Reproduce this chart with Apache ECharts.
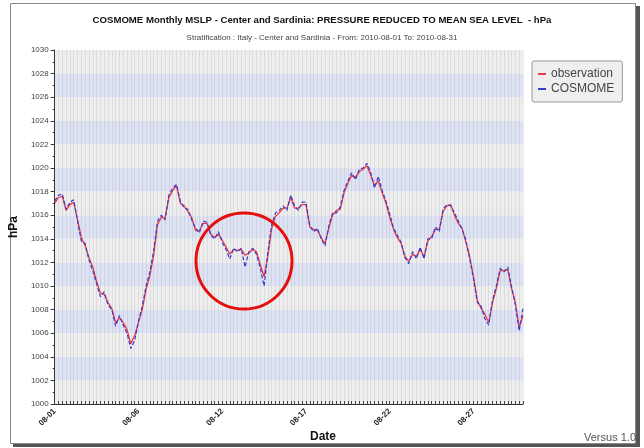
<!DOCTYPE html>
<html>
<head>
<meta charset="utf-8">
<script src="https://cdn.jsdelivr.net/npm/echarts@6/dist/echarts.min.js"></script>
<style>html,body{margin:0;padding:0;background:#fff;}#c{width:644px;height:448px;}</style>
</head>
<body>
<div id="c"></div>
<script>
// 6-hourly values, 2010-08-01 00:00 .. 2010-08-31 18:00
const observation = [
1017.0,1017.5,1017.6,1016.4,1016.9,1017.1,1015.6,1014.1,1013.4,1012.4,
1011.6,1010.4,1009.4,1009.3,1008.6,1008.1,1006.9,1007.3,1006.9,1006.3,
1005.1,1005.8,1006.9,1008.0,1009.7,1010.9,1012.6,1015.2,1015.8,1015.8,
1017.5,1018.1,1018.5,1017.0,1016.8,1016.3,1015.8,1014.7,1014.7,1015.3,
1015.3,1014.4,1014.1,1014.4,1013.9,1013.3,1012.7,1013.1,1013.0,1013.1,
1012.6,1012.8,1013.1,1012.9,1011.8,1010.8,1012.6,1014.9,1015.9,1016.2,
1016.6,1016.6,1017.5,1016.6,1016.6,1016.9,1016.9,1015.0,1014.8,1014.7,
1014.1,1013.6,1014.9,1016.0,1016.4,1016.5,1017.9,1018.7,1019.4,1019.2,
1019.7,1019.9,1020.2,1019.4,1018.5,1018.9,1017.9,1017.0,1015.8,1014.8,
1014.1,1013.6,1012.5,1012.1,1012.7,1012.5,1013.1,1012.5,1013.8,1014.2,
1014.8,1014.8,1016.3,1016.8,1016.9,1016.0,1015.3,1014.9,1013.7,1012.5,
1010.8,1008.8,1008.1,1007.6,1006.9,1008.6,1009.8,1011.3,1011.3,1011.4,
1009.8,1008.6,1006.5,1007.5
];
const cosmome = [
1017.2,1017.7,1017.8,1016.5,1017.1,1017.3,1015.5,1013.8,1013.6,1012.2,
1011.3,1010.2,1009.1,1009.5,1008.4,1008.0,1006.6,1007.5,1006.7,1006.0,
1004.7,1005.4,1007.0,1008.3,1010.0,1011.2,1013.0,1015.5,1016.0,1015.6,
1017.7,1018.3,1018.6,1017.2,1016.6,1016.5,1015.6,1014.9,1014.5,1015.5,
1015.4,1014.3,1014.0,1014.6,1013.7,1013.1,1012.3,1013.2,1012.9,1013.2,
1011.6,1012.9,1013.2,1012.7,1011.5,1010.0,1012.9,1015.2,1016.2,1016.4,
1016.8,1016.4,1017.7,1016.8,1016.4,1017.1,1017.1,1015.1,1014.6,1014.9,
1014.0,1013.4,1015.1,1016.2,1016.2,1016.7,1018.1,1018.9,1019.6,1019.0,
1019.9,1020.0,1020.4,1019.6,1018.3,1019.3,1018.1,1017.2,1016.1,1014.9,
1014.3,1013.7,1012.4,1011.9,1012.9,1012.3,1013.3,1012.3,1014.0,1014.0,
1015.0,1014.6,1016.5,1016.9,1016.8,1016.2,1015.5,1014.8,1013.9,1012.3,
1010.6,1008.6,1008.3,1007.2,1006.7,1008.8,1010.0,1011.5,1011.2,1011.6,
1009.9,1008.4,1006.2,1008.1
];
const tickLabels = ['08-01','08-06','08-12','08-17','08-22','08-27'];
const tickIndex = [0,22,44,66,88,110];
const seriesNames = ['observation','COSMOME'];
const yMin = 1000, yMax = 1030, yStep = 2;

const categories = observation.map((_, i) => String(i));
const FF = '"Liberation Sans", Arial, sans-serif';

const chart = echarts.init(document.getElementById('c'), null, {renderer: 'canvas'});
chart.setOption({
  animation: false,
  backgroundColor: '#ffffff',
  textStyle: {fontFamily: FF},
  title: {
    text: 'COSMOME Monthly MSLP - Center and Sardinia: PRESSURE REDUCED TO MEAN SEA LEVEL  - hPa',
    subtext: 'Stratification : Italy - Center and Sardinia - From: 2010-08-01 To: 2010-08-31',
    left: 'center', top: 10, itemGap: 9,
    textStyle: {fontFamily: FF, fontSize: 9.6, fontWeight: 'bold', color: '#111'},
    subtextStyle: {fontFamily: FF, fontSize: 8, color: '#444'}
  },
  legend: {
    orient: 'vertical', left: 532, top: 61,
    padding: [7, 8, 7, 6], itemGap: 3,
    itemWidth: 8, itemHeight: 2, icon: 'rect',
    backgroundColor: '#efefef', borderColor: '#999', borderWidth: 1, borderRadius: 2,
    textStyle: {fontFamily: FF, fontSize: 12, color: '#444'},
    data: seriesNames
  },
  grid: {left: 47, right: 121, top: 50, bottom: 44, containLabel: false},
  xAxis: {
    type: 'category', data: categories, boundaryGap: false,
    axisLine: {show: true, lineStyle: {color: '#333', width: 1}},
    axisTick: {show: true, inside: true, length: 3, interval: 0, lineStyle: {color: '#444'}},
    splitLine: {show: true, interval: 0, lineStyle: {color: 'rgba(150,150,150,0.2)', width: 1}},
    axisLabel: {
      rotate: 45, fontSize: 8, fontWeight: 'bold', color: '#222', margin: 6,
      interval: (i) => tickIndex.indexOf(i) >= 0,
      formatter: (v, i) => { const k = tickIndex.indexOf(i); return k >= 0 ? tickLabels[k] : ''; }
    }
  },
  yAxis: {
    type: 'value', min: yMin, max: yMax, interval: yStep,
    name: 'hPa', nameLocation: 'middle', nameGap: 21, nameRotate: 90,
    nameTextStyle: {fontFamily: FF, fontSize: 12, fontWeight: 'bold', color: '#111'},
    axisLine: {show: true, lineStyle: {color: '#333', width: 1}},
    axisTick: {show: true, length: 4, lineStyle: {color: '#333'}},
    minorTick: {show: true, splitNumber: 2, length: 2, lineStyle: {color: '#333'}},
    splitLine: {show: false},
    splitArea: {show: true, areaStyle: {color: ['#eeeeee', '#dee3f4']}},
    axisLabel: {fontSize: 8, color: '#444', margin: 6, formatter: (v) => String(v)}
  },
  series: [
    {name: seriesNames[0], type: 'line', data: observation, showSymbol: false, symbol: 'none',
     itemStyle: {color: '#ef3b3b'}, lineStyle: {color: '#ef3b3b', width: 1.3}, z: 3},
    {name: seriesNames[1], type: 'line', data: cosmome, showSymbol: false, symbol: 'none',
     itemStyle: {color: '#3b3bcf'}, lineStyle: {color: '#3b3bcf', width: 1.2, type: [4, 2]}, z: 4}
  ],
  graphic: [
    {type: 'rect', shape: {x: 635, y: 6, width: 5, height: 441}, style: {fill: '#555'}, z: 0},
    {type: 'rect', shape: {x: 13, y: 443, width: 627, height: 4}, style: {fill: '#555'}, z: 0},
    {type: 'rect', shape: {x: 10.5, y: 3.5, width: 625, height: 440}, style: {fill: 'none', stroke: '#888', lineWidth: 1}, z: 0},
    {type: 'text', left: 310, top: 431, style: {text: 'Date', fontFamily: FF, fontSize: 12, fontWeight: 'bold', fill: '#111'}, z: 10},
    {type: 'text', right: 8, top: 432, style: {text: 'Versus 1.0', fontFamily: FF, fontSize: 11, fill: '#555'}, z: 10},
    {type: 'circle', shape: {cx: 244, cy: 261, r: 48}, style: {fill: 'none', stroke: '#e41010', lineWidth: 3}, z: 20}
  ]
});
</script>
</body>
</html>
